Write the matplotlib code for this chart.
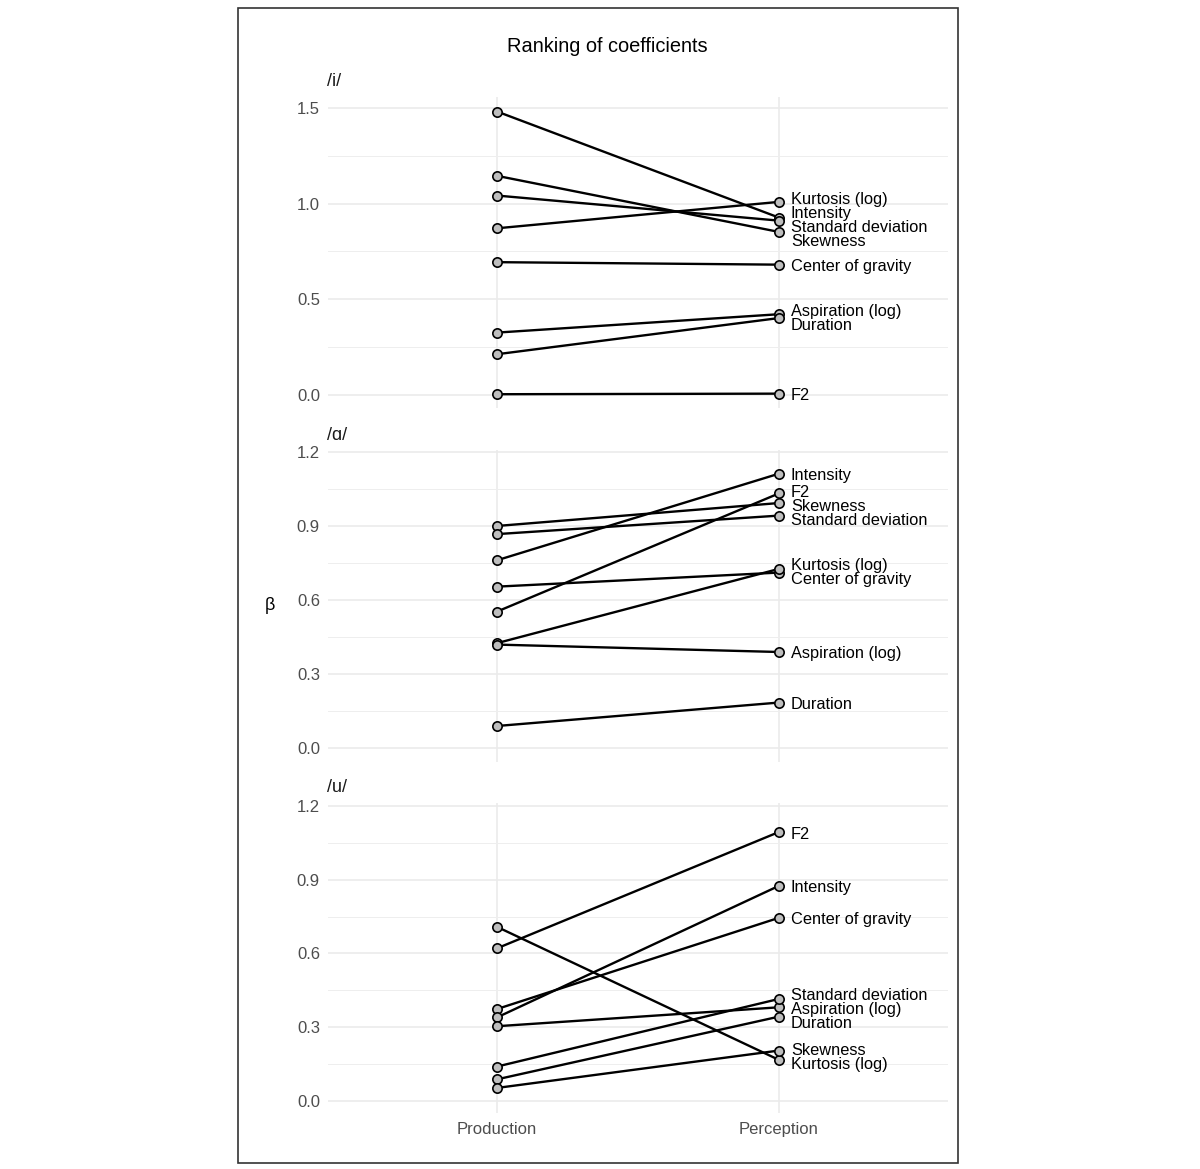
import numpy as np
import matplotlib.pyplot as plt
from matplotlib.patches import Rectangle

plt.rcParams["font.family"] = ["Liberation Sans", "DejaVu Sans"]

W, H = 1200, 1169

stages = ["Production", "Perception"]

# /i/
i_features = ["Intensity", "Standard deviation", "Skewness", "Kurtosis (log)",
              "Center of gravity", "Aspiration (log)", "Duration", "F2"]
i_production = [1.481, 1.042, 1.145, 0.871, 0.694, 0.326, 0.213, 0.004]
i_perception = [0.927, 0.911, 0.852, 1.009, 0.681, 0.422, 0.402, 0.007]

# /ɑ/
a_features = ["Skewness", "Standard deviation", "Intensity", "Center of gravity",
              "F2", "Kurtosis (log)", "Aspiration (log)", "Duration"]
a_production = [0.900, 0.867, 0.761, 0.654, 0.553, 0.425, 0.419, 0.089]
a_perception = [0.993, 0.942, 1.112, 0.711, 1.032, 0.726, 0.389, 0.184]

# /u/
u_features = ["Kurtosis (log)", "F2", "Center of gravity", "Intensity",
              "Aspiration (log)", "Standard deviation", "Duration", "Skewness"]
u_production = [0.708, 0.621, 0.374, 0.340, 0.304, 0.140, 0.088, 0.053]
u_perception = [0.167, 1.094, 0.745, 0.875, 0.381, 0.415, 0.343, 0.205]

panels = [
    ("/i/", i_features, i_production, i_perception, (-0.068, 1.557),
     [0.0, 0.5, 1.0, 1.5], [0.25, 0.75, 1.25], (97, 408)),
    ("/ɑ/", a_features, a_production, a_perception, (-0.057, 1.208),
     [0.0, 0.3, 0.6, 0.9, 1.2], [0.15, 0.45, 0.75, 1.05], (450, 762)),
    ("/u/", u_features, u_production, u_perception, (-0.049, 1.212),
     [0.0, 0.3, 0.6, 0.9, 1.2], [0.15, 0.45, 0.75, 1.05], (803, 1113)),
]


def spread(values, gap):
    # push labels apart so they don't overlap (simple 1-d repel)
    order = np.argsort(values)
    y = np.array(values, dtype=float)[order]
    for _ in range(500):
        for k in range(len(y) - 1):
            d = y[k + 1] - y[k]
            if d < gap:
                push = (gap - d) / 2
                y[k] -= push
                y[k + 1] += push
    out = np.empty_like(y)
    out[order] = y
    return out


fig = plt.figure(figsize=(W / 100, H / 100), dpi=100)

x_left, x_right = 328, 948
for name, feats, prod, perc, ylim, major, minor, (top, bottom) in panels:
    ax = fig.add_axes([x_left / W, 1 - bottom / H, (x_right - x_left) / W,
                       (bottom - top) / H])
    ax.set_xlim(0.4, 2.6)
    ax.set_ylim(*ylim)
    ax.set_yticks(major)
    ax.set_yticks(minor, minor=True)
    ax.set_yticklabels([f"{v:.1f}" for v in major])
    ax.set_xticks([1, 2])
    if name == "/u/":
        ax.set_xticklabels(stages)
    else:
        ax.set_xticklabels([])
    ax.tick_params(axis="both", length=0, labelsize=12, colors="#4D4D4D", pad=5.8)
    ax.tick_params(axis="x", pad=6.5)
    ax.tick_params(axis="y", which="minor", length=0)
    ax.grid(True, which="major", color="#EBEBEB", lw=1.2)
    ax.grid(True, which="minor", axis="y", color="#EEEEEE", lw=0.7)
    ax.set_axisbelow(True)
    for s in ax.spines.values():
        s.set_visible(False)

    for p, q in zip(prod, perc):
        ax.plot([1, 2], [p, q], color="black", lw=1.7, zorder=2)
    ax.scatter([1] * len(prod), prod, s=45, color="#BEBEBE", edgecolor="black",
               linewidth=1.2, zorder=3)
    ax.scatter([2] * len(perc), perc, s=45, color="#BEBEBE", edgecolor="black",
               linewidth=1.2, zorder=3)

    px_per_unit = (bottom - top) / (ylim[1] - ylim[0])
    label_y = spread(perc, 14 / px_per_unit)
    for f, ly in zip(feats, label_y):
        ax.annotate(f, xy=(2, ly), xytext=(12, -2), textcoords="offset pixels",
                    ha="left", va="center", fontsize=11.8, color="black")

    ax.annotate(name, xy=(0, 1), xycoords="axes fraction", xytext=(-1, 15),
                textcoords="offset pixels", ha="left", va="center",
                fontsize=13, color="#1A1A1A")

fig.text(607 / W, 1 - 47 / H, "Ranking of coefficients", ha="center",
         va="center", fontsize=14.4)
fig.text(270 / W, 1 - 606 / H, "β", ha="center", va="center", fontsize=13)

fig.patches.append(Rectangle((238 / W, 1 - 1163 / H), 720 / W, 1155 / H,
                             transform=fig.transFigure, fill=False,
                             edgecolor="#333333", lw=1.2))

fig.savefig("out.png", dpi=100)
